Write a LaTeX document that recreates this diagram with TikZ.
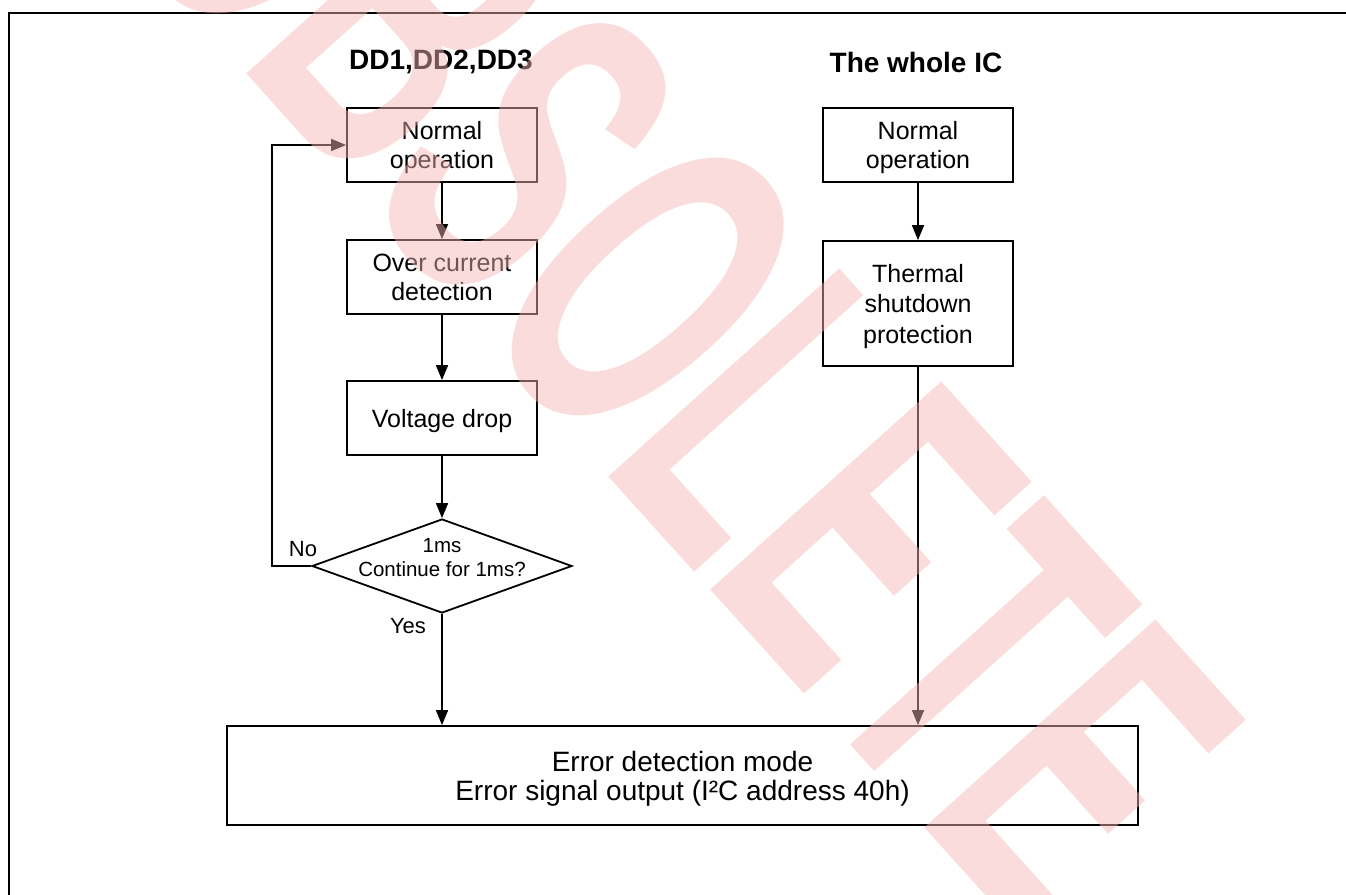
\documentclass[tikz,border=0pt]{standalone}
\usepackage{fontspec}
\setmainfont{Liberation Sans}
\usetikzlibrary{shapes.geometric,arrows.meta}
\definecolor{wmpink}{rgb}{0.97,0.71,0.71}
\begin{document}
\begin{tikzpicture}[x=1pt,y=1pt,
  box/.style={draw, line width=1.8pt, minimum width=190pt, minimum height=74pt, inner sep=0pt, align=center, text depth=0pt, font=\fontsize{25}{29}\selectfont},
  arr/.style={line width=1.6pt, -{Triangle[length=15pt,width=12pt]}},
  ttl/.style={inner sep=0pt, font=\fontsize{28}{30}\selectfont\bfseries},
  lbl/.style={inner sep=0pt, font=\fontsize{22}{24}\selectfont}]
\useasboundingbox (0,0) rectangle (1346,-894);
% frame
\draw[line width=2.4pt] (9,-900) -- (9,-13) -- (1350,-13);
% titles
\node[ttl] (t1) at (441,-62) {DD1,DD2,DD3};
\node[ttl] (t2) at (916,-62) {The whole IC};
% left chain
\node[box] (n1) at (442,-145) {Normal\\operation};
\node[box] (oc) at (442,-277) {Over current\\detection};
\node[box] (vd) at (442,-418) {Voltage drop};
\node[draw, line width=1.8pt, diamond, minimum width=260pt, minimum height=94pt, inner sep=0pt] (dec) at (442,-566) {};
\node[align=center, inner sep=0pt, font=\fontsize{20.5}{24}\selectfont] (dect) at (442,-558) {1ms\\Continue for 1ms?};
\node[lbl] (no) at (303,-549) {No};
\node[lbl] (yes) at (408,-626) {Yes};
% right chain
\node[box] (n2) at (918,-145) {Normal\\operation};
\node[box, minimum height=125pt, font=\fontsize{25}{30.5}\selectfont] (th) at (918,-303.5) {Thermal\\shutdown\\protection};
% error box
\node[box, minimum width=911pt, minimum height=99pt, font=\fontsize{28}{29}\selectfont] (err) at (682.5,-775.5) {Error detection mode\\Error signal output (I²C address 40h)};
% connectors
\coordinate (lp) at (272,-566);
\draw[arr] (n1.south) -- (oc.north);
\draw[arr] (oc.south) -- (vd.north);
\draw[arr] (vd.south) -- (dec.north);
\draw[arr] (dec.south) -- (dec.south |- err.north);
\draw[arr] (dec.west) -- (lp) |- (n1.west);
\draw[arr] (n2.south) -- (th.north);
\draw[arr] (th.south) -- (th.south |- err.north);
% watermark
\node[anchor=base west, inner sep=0pt, rotate=-48, text=wmpink, text opacity=0.47] (wm) at (105,83)
  {\fontsize{452}{452}\selectfont\bfseries\scalebox{0.553}[1]{OBSOLETE}};
\end{tikzpicture}
\end{document}
